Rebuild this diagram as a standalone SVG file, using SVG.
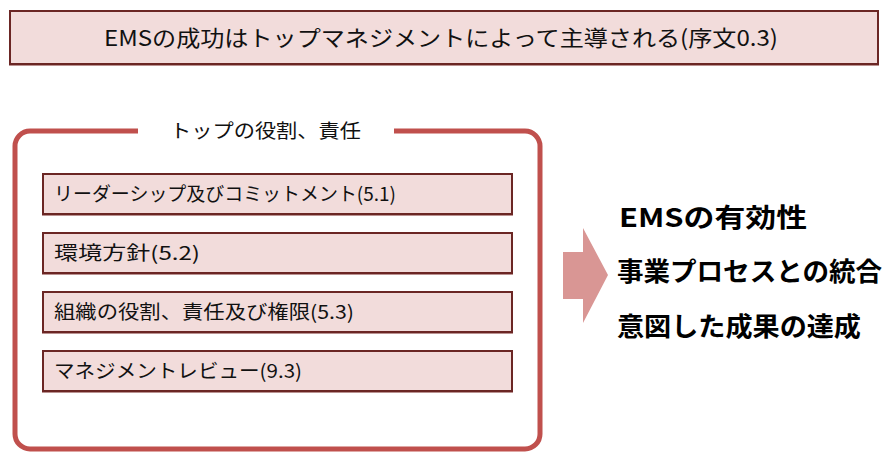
<svg xmlns="http://www.w3.org/2000/svg" width="889" height="461" viewBox="0 0 889 461">
<style>
.box{fill:#f2dcdb;stroke:#6b2624;stroke-width:2}
.shadow{fill:#8c4a48;opacity:0.6}
.t{font-family:"Noto Sans CJK JP","Noto Sans",sans-serif;fill:#111}
.item{font-size:19px}
.big{font-size:26px;font-weight:bold;fill:#000}
.frame{fill:none;stroke:#c0504d;stroke-width:5}
</style>
<rect width="889" height="461" fill="#fff"/>
<g id="title">
<rect class="shadow" x="9" y="13" width="870" height="53"/>
<rect class="box" x="10" y="11" width="868" height="53"/>
<text class="t" x="104" y="46" font-size="22" textLength="674" lengthAdjust="spacingAndGlyphs">EMSの成功はトップマネジメントによって主導される(序文0.3)</text>
</g>
<g id="frame">
<path class="frame" d="M138,131 H30 A15,15 0 0 0 15,146 V434 A15,15 0 0 0 30,449 H525 A15,15 0 0 0 540,434 V146 A15,15 0 0 0 525,131 H394"/>
<text class="t" x="170" y="138" font-size="19" textLength="191" lengthAdjust="spacingAndGlyphs">トップの役割、責任</text>
</g>
<g id="item1">
<rect class="shadow" x="42" y="176" width="471" height="40"/>
<rect class="box" x="43" y="174" width="469" height="40"/>
<text class="t item" x="54" y="201" textLength="342" lengthAdjust="spacingAndGlyphs">リーダーシップ及びコミットメント(5.1)</text>
</g>
<g id="item2">
<rect class="shadow" x="42" y="235" width="471" height="40"/>
<rect class="box" x="43" y="233" width="469" height="40"/>
<text class="t item" x="54" y="260" textLength="146" lengthAdjust="spacingAndGlyphs">環境方針(5.2)</text>
</g>
<g id="item3">
<rect class="shadow" x="42" y="294" width="471" height="40"/>
<rect class="box" x="43" y="292" width="469" height="40"/>
<text class="t item" x="54" y="319" textLength="300" lengthAdjust="spacingAndGlyphs">組織の役割、責任及び権限(5.3)</text>
</g>
<g id="item4">
<rect class="shadow" x="42" y="353" width="471" height="40"/>
<rect class="box" x="43" y="351" width="469" height="40"/>
<text class="t item" x="54" y="378" textLength="248" lengthAdjust="spacingAndGlyphs">マネジメントレビュー(9.3)</text>
</g>
<g id="connectors">
<polygon points="563,252 583,252 583,228 608,275 583,323 583,299 563,299" fill="#d99694"/>
</g>
<g id="results">
<text class="t big" x="619" y="227" textLength="188" lengthAdjust="spacingAndGlyphs">EMSの有効性</text>
<text class="t big" x="617" y="281" textLength="265" lengthAdjust="spacingAndGlyphs">事業プロセスとの統合</text>
<text class="t big" x="617" y="336" textLength="244" lengthAdjust="spacingAndGlyphs">意図した成果の達成</text>
</g>
</svg>
